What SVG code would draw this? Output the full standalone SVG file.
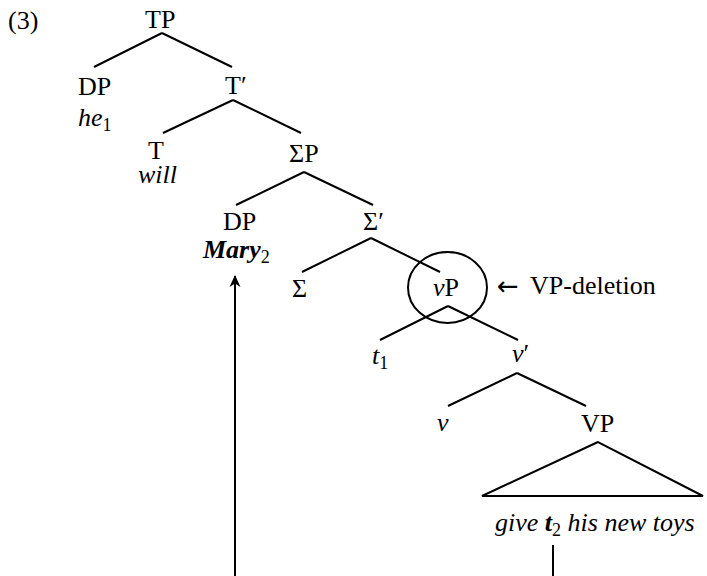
<svg xmlns="http://www.w3.org/2000/svg" width="707" height="576" viewBox="0 0 707 576">
<style>
text{font-family:"Liberation Serif","Times New Roman","DejaVu Serif",serif;font-size:26px;fill:#000}
.it{font-style:italic}
.bi{font-style:italic;font-weight:bold}
.sub{font-size:18px;font-style:normal;font-weight:normal}
.arrow{font-family:"DejaVu Sans",sans-serif}
.edge{stroke:#000;stroke-width:2;fill:none;stroke-linecap:butt}
</style>
<defs>
<marker id="ah" viewBox="0 0 12 12" refX="11" refY="6" markerWidth="12" markerHeight="12" markerUnits="userSpaceOnUse" orient="auto">
<path d="M12,6 L0,0.5 L3.5,6 L0,11.5 Z" fill="#000"/>
</marker>
</defs>
<rect width="707" height="576" fill="#fff"/>
<text id="label" x="8" y="29">(3)</text>
<g id="connectors">
<line class="edge" x1="162" y1="33" x2="94" y2="67"/>
<line class="edge" x1="162" y1="33" x2="232" y2="67"/>
<line class="edge" x1="233" y1="100" x2="163" y2="133"/>
<line class="edge" x1="233" y1="100" x2="301" y2="133"/>
<line class="edge" x1="304" y1="172" x2="236" y2="205"/>
<line class="edge" x1="304" y1="172" x2="373" y2="205"/>
<line class="edge" x1="371" y1="238" x2="302" y2="272"/>
<line class="edge" x1="371" y1="238" x2="440" y2="272"/>
<line class="edge" x1="448" y1="306" x2="380" y2="340"/>
<line class="edge" x1="448" y1="306" x2="518" y2="340"/>
<line class="edge" x1="517" y1="373" x2="448" y2="406"/>
<line class="edge" x1="517" y1="373" x2="586" y2="406"/>
<path class="edge" d="M598,442 L482,496 L703,496 Z"/>
<line class="edge" x1="235" y1="576" x2="235" y2="276" marker-end="url(#ah)"/>
<line class="edge" x1="553" y1="545" x2="553" y2="576"/>
</g>
<g id="TP"><text x="145" y="28">TP</text></g>
<g id="DP1"><text x="78" y="95">DP</text><text x="78" y="126"><tspan class="it">he</tspan><tspan class="sub" dy="5">1</tspan></text></g>
<g id="Tbar"><text x="225" y="94">T′</text></g>
<g id="T"><text x="148" y="159">T</text><text class="it" x="138" y="183">will</text></g>
<g id="SigmaP"><text x="289" y="162">ΣP</text></g>
<g id="DP2"><text x="223" y="230">DP</text><text x="203" y="258"><tspan class="bi">Mary</tspan><tspan class="sub" dy="5">2</tspan></text></g>
<g id="Sigmabar"><text x="363" y="230">Σ′</text></g>
<g id="Sigma"><text x="292" y="297">Σ</text></g>
<g id="vP"><ellipse cx="447.5" cy="287.5" rx="39.5" ry="35.5" class="edge"/><text x="433" y="296"><tspan class="it">v</tspan>P</text></g>
<g id="note"><text class="arrow" x="497" y="295">←</text><text x="530" y="294">VP-deletion</text></g>
<g id="t1"><text x="372" y="364"><tspan class="it">t</tspan><tspan class="sub" dy="5">1</tspan></text></g>
<g id="vbar"><text x="512" y="362"><tspan class="it">v</tspan>′</text></g>
<g id="v"><text class="it" x="437" y="431">v</text></g>
<g id="VP"><text x="581" y="432">VP</text></g>
<g id="VPcontent"><text x="495" y="531"><tspan class="it">give </tspan><tspan class="bi">t</tspan><tspan class="sub" dy="5">2</tspan><tspan class="it" dy="-5"> his new toys</tspan></text></g>
</svg>
